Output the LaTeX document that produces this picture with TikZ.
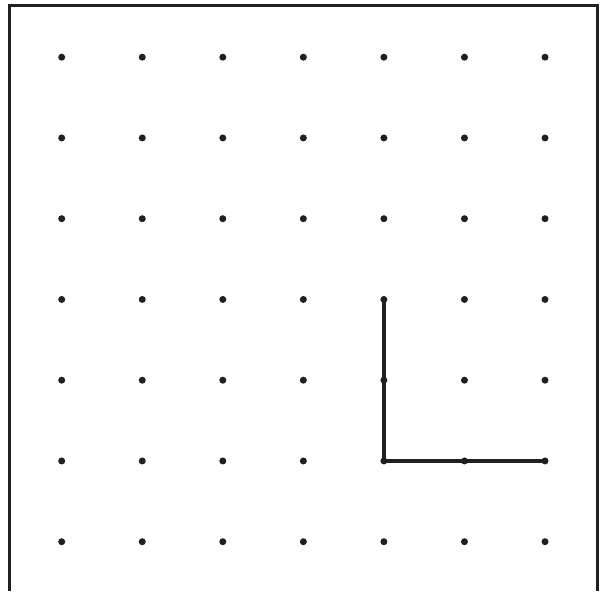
\documentclass[tikz,border=0pt]{standalone}
\definecolor{ink}{HTML}{231F20}
\begin{document}
\begin{tikzpicture}[x=1pt,y=-1pt,
  dotmark/.style={circle,fill=ink,inner sep=0pt,minimum size=7pt},
  frameline/.style={draw=ink,line width=3pt},
  lshape/.style={draw=ink,line width=4.6pt,line cap=round,line join=miter}]
\useasboundingbox (0,0) rectangle (601,591);
\draw[frameline] (9.5,591) -- (9.5,6) -- (597.5,6) -- (597.5,591);
\foreach \i in {0,...,6}{
  \foreach \j in {0,...,6}{
    \node[dotmark] (d\i\j) at ({61.7+80.55*\i},{57.2+80.75*\j}) {};
  }
}
\draw[lshape] (d43.center) -- (d45.center) -- (d65.center);
\end{tikzpicture}
\end{document}
